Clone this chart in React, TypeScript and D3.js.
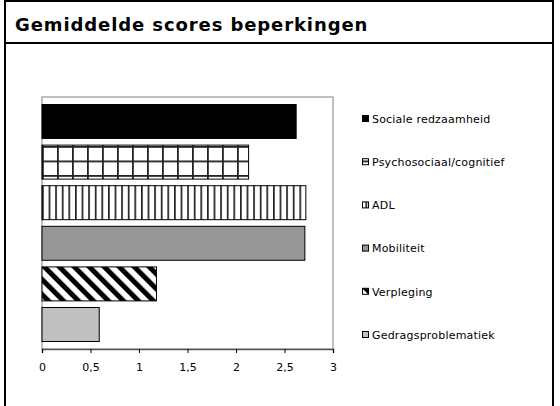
import React, { useEffect, useRef } from 'react';
import * as d3 from 'd3';

const categories = [
  'Sociale redzaamheid',
  'Psychosociaal/cognitief',
  'ADL',
  'Mobiliteit',
  'Verpleging',
  'Gedragsproblematiek',
];
const scores = [2.62, 2.13, 2.72, 2.71, 1.18, 0.59];
const fills = ['#000000', 'url(#pGrid)', 'url(#pVert)', '#969696', 'url(#pDiag)', '#c0c0c0'];
const xTicks = [0, 0.5, 1, 1.5, 2, 2.5, 3];
const title = 'Gemiddelde scores beperkingen';

const W = 560;
const H = 406;

export default function App() {
  const svgRef = useRef<SVGSVGElement>(null);

  useEffect(() => {
    if (!svgRef.current) return;
    const svg = d3.select(svgRef.current);
    svg.selectAll('*').remove();

    const font = 'DejaVu Sans, Verdana, sans-serif';

    // Patterns
    const defs = svg.append('defs');
    const grid = defs.append('pattern')
      .attr('id', 'pGrid').attr('patternUnits', 'userSpaceOnUse')
      .attr('x', 42).attr('y', 146).attr('width', 15).attr('height', 14.5);
    grid.append('rect').attr('width', 15).attr('height', 14.5).attr('fill', '#fff');
    grid.append('rect').attr('x', 0).attr('y', 0).attr('width', 1.8).attr('height', 14.5).attr('fill', '#222');
    grid.append('rect').attr('x', 0).attr('y', 0).attr('width', 15).attr('height', 1.8).attr('fill', '#222');

    const vert = defs.append('pattern')
      .attr('id', 'pVert').attr('patternUnits', 'userSpaceOnUse')
      .attr('x', 42).attr('y', 0).attr('width', 6.6).attr('height', 10);
    vert.append('rect').attr('width', 6.6).attr('height', 10).attr('fill', '#fff');
    vert.append('rect').attr('x', 0).attr('width', 1.7).attr('height', 10).attr('fill', '#222');

    const diag = defs.append('pattern')
      .attr('id', 'pDiag').attr('patternUnits', 'userSpaceOnUse')
      .attr('width', 10.6).attr('height', 10)
      .attr('patternTransform', 'translate(42,268) rotate(-45)');
    diag.append('rect').attr('width', 10.6).attr('height', 10).attr('fill', '#fff');
    diag.append('rect').attr('x', 0).attr('width', 5).attr('height', 10).attr('fill', '#000');

    svg.append('rect').attr('width', W).attr('height', H).attr('fill', '#fff');

    // Frame + title
    svg.append('path')
      .attr('d', `M5,${H} V1 H553 V${H}`)
      .attr('fill', 'none').attr('stroke', '#000').attr('stroke-width', 2);
    svg.append('line')
      .attr('x1', 5).attr('x2', 553).attr('y1', 43).attr('y2', 43)
      .attr('stroke', '#000').attr('stroke-width', 2);
    svg.append('text')
      .attr('x', 15).attr('y', 30.5)
      .attr('font-family', font).attr('font-weight', 'bold').attr('font-size', '18px')
      .attr('letter-spacing', '0.9px')
      .attr('fill', '#000')
      .text(title);

    // Scales
    const x = d3.scaleLinear().domain([0, 3]).range([42, 333]);
    const y = d3.scaleBand<string>().domain(categories).range([97, 349])
      .paddingInner(0.163).paddingOuter(0.185);

    // Plot area
    svg.append('rect')
      .attr('x', 42).attr('y', 97).attr('width', 333 - 42).attr('height', 349 - 97)
      .attr('fill', 'none').attr('stroke', '#808080').attr('stroke-width', 1);

    svg.append('g')
      .selectAll('rect')
      .data(categories)
      .join('rect')
      .attr('x', x(0))
      .attr('y', d => y(d)!)
      .attr('width', (_, i) => x(scores[i]) - x(0))
      .attr('height', y.bandwidth())
      .attr('fill', (_, i) => fills[i])
      .attr('stroke', '#000')
      .attr('stroke-width', 1);

    // Axis
    const axis = svg.append('g')
      .attr('transform', 'translate(0,349)')
      .call(
        d3.axisBottom(x)
          .tickValues(xTicks)
          .tickSize(4)
          .tickPadding(10)
          .tickFormat(d => String(d).replace('.', ','))
      );
    axis.select('.domain').attr('stroke', '#555').attr('stroke-width', 1.5);
    axis.selectAll('line').attr('stroke', '#000');
    axis.selectAll('text')
      .attr('font-family', font).attr('font-size', '11px').attr('fill', '#000');

    // Legend
    const ly = d3.scaleLinear().domain([0, categories.length - 1]).range([119, 335]);
    const legend = svg.append('g');
    categories.forEach((c, i) => {
      legend.append('rect')
        .attr('x', 362.5).attr('y', ly(i) - 3.5).attr('width', 6).attr('height', 6)
        .attr('fill', fills[i]).attr('stroke', '#000').attr('stroke-width', 1);
      legend.append('text')
        .attr('x', 372).attr('y', ly(i)).attr('dy', '0.35em')
        .attr('font-family', font).attr('font-size', '11px')
        .attr('letter-spacing', '0.2px').attr('fill', '#000')
        .text(c);
    });
  }, []);

  return (
    <svg
      ref={svgRef}
      width={W}
      height={H}
      style={{ position: 'absolute', left: 0, top: 0 }}
    />
  );
}
